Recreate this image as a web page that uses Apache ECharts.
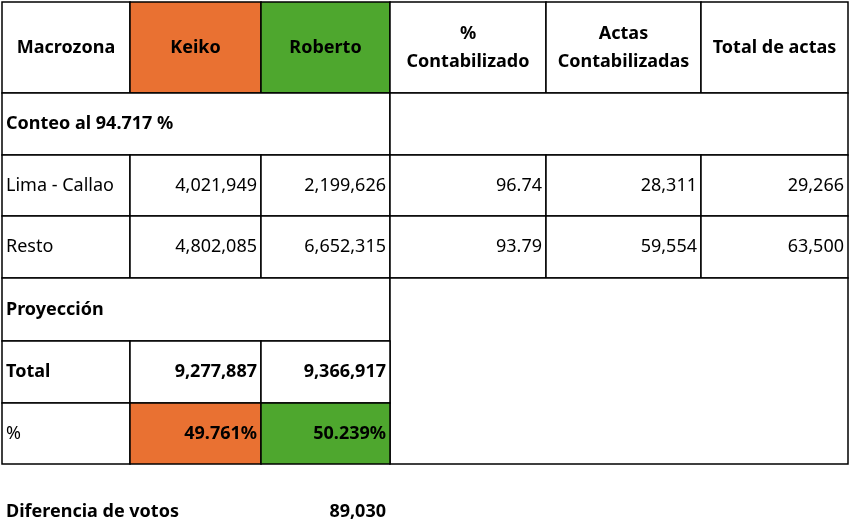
<!DOCTYPE html>
<html>
<head>
<meta charset="utf-8">
<script src="https://cdn.jsdelivr.net/npm/echarts@6/dist/echarts.min.js"></script>
<style>html,body{margin:0;background:#fff}#main{width:851px;height:526px}</style>
</head>
<body>
<div id="main"></div>
<script>
// datos
var headers = ['Macrozona', 'Keiko', 'Roberto', '%\nContabilizado', 'Actas\nContabilizadas', 'Total de actas'];
var conteoLabel = 'Conteo al 94.717 %';
var regiones = ['Lima - Callao', 'Resto'];
var limaValues = [4021949, 2199626, 96.74, 28311, 29266];
var restoValues = [4802085, 6652315, 93.79, 59554, 63500];
var totalValues = [9277887, 9366917];
var pctValues = [49.761, 50.239];
var diferencia = 89030;

var orange = '#E97132', green = '#4EA72E';
var cx = [2, 130, 261, 390, 546, 701, 848];
var ry = [2, 93, 155, 216, 278, 341, 403, 464];
var font = '"Noto Sans", sans-serif';

function fmt(v, dec) {
  return v.toLocaleString('en-US', {minimumFractionDigits: dec || 0, maximumFractionDigits: dec || 0});
}

var els = [];
function cell(c0, c1, r0, r1, fill) {
  els.push({type: 'rect', shape: {x: cx[c0], y: ry[r0], width: cx[c1] - cx[c0], height: ry[r1] - ry[r0]},
    style: {fill: fill || '#fff', stroke: '#000', lineWidth: 1.5}});
}
function txt(s, x, y, align, bold) {
  els.push({type: 'text', x: x, y: y, z: 10, style: {text: s, align: align, verticalAlign: 'middle',
    font: (bold ? 'bold ' : '') + '18px ' + font, fill: '#000', lineHeight: 28}});
}
function mid(r) { return (ry[r] + ry[r + 1]) / 2; }

// encabezado
headers.forEach(function (h, i) {
  cell(i, i + 1, 0, 1, i === 1 ? orange : i === 2 ? green : null);
  txt(h, (cx[i] + cx[i + 1]) / 2, mid(0), 'center', true);
});
// conteo
cell(0, 3, 1, 2); cell(3, 6, 1, 2);
txt(conteoLabel, cx[0] + 4, mid(1), 'left', true);
// filas de regiones
[limaValues, restoValues].forEach(function (vals, k) {
  var r = 2 + k;
  cell(0, 1, r, r + 1);
  txt(regiones[k], cx[0] + 4, mid(r), 'left', false);
  vals.forEach(function (v, j) {
    cell(j + 1, j + 2, r, r + 1);
    txt(fmt(v, j === 2 ? 2 : 0), cx[j + 2] - 4, mid(r), 'right', false);
  });
});
// proyeccion
cell(0, 3, 4, 5); cell(3, 6, 4, 7);
txt('Proyección', cx[0] + 4, mid(4), 'left', true);
cell(0, 1, 5, 6); txt('Total', cx[0] + 4, mid(5), 'left', true);
totalValues.forEach(function (v, j) {
  cell(j + 1, j + 2, 5, 6);
  txt(fmt(v), cx[j + 2] - 4, mid(5), 'right', true);
});
cell(0, 1, 6, 7); txt('%', cx[0] + 4, mid(6), 'left', false);
pctValues.forEach(function (v, j) {
  cell(j + 1, j + 2, 6, 7, j === 0 ? orange : green);
  txt(fmt(v, 3) + '%', cx[j + 2] - 4, mid(6), 'right', true);
});
// diferencia
txt('Diferencia de votos', cx[0] + 4, 512, 'left', true);
txt(fmt(diferencia), cx[3] - 4, 512, 'right', true);

var chart = echarts.init(document.getElementById('main'));
chart.setOption({backgroundColor: '#fff', graphic: {elements: els}});
</script>
</body>
</html>
